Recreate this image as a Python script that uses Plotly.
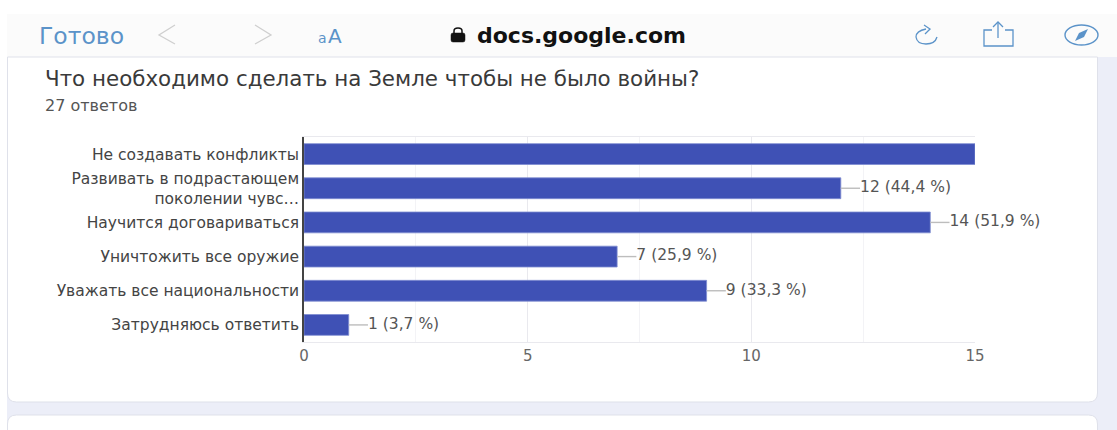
import plotly.graph_objects as go

categories = ["Не создавать конфликты", "Развивать в подрастающем<br>поколении чувс…",
              "Научится договариваться", "Уничтожить все оружие",
              "Уважать все национальности", "Затрудняюсь ответить"]
values = [15, 12, 14, 7, 9, 1]
value_labels = ["15 (55,6 %", "12 (44,4 %)", "14 (51,9 %)", "7 (25,9 %)", "9 (33,3 %)", "1 (3,7 %)"]
x_ticks = [0, 5, 10, 15]
title = "Что необходимо сделать на Земле чтобы не было войны?"
subtitle = "27 ответов"

W, H = 1117, 430
L, R, T, B = 304, 975, 137, 342
FONT = "DejaVu Sans"
BLUE = "#5b93c9"
LEADER = 0.43

def X(p): return (p - L) / (R - L)
def Y(p): return (B - p) / (B - T)

def path(*items):
    out = []
    for it in items:
        if isinstance(it, str):
            out.append(it)
        else:
            out.append(f"{X(it[0]):.5f},{Y(it[1]):.5f}")
    return " ".join(out)

def card(x0, y0, x1, y1, r=9, top=True, bottom=True):
    a = ["M", (x0, y0 + (r if top else 0))]
    if top: a += ["Q", (x0, y0), (x0 + r, y0)]
    a += ["L", (x1 - (r if top else 0), y0)]
    if top: a += ["Q", (x1, y0), (x1, y0 + r)]
    a += ["L", (x1, y1 - (r if bottom else 0))]
    if bottom: a += ["Q", (x1, y1), (x1 - r, y1)]
    a += ["L", (x0 + (r if bottom else 0), y1)]
    if bottom: a += ["Q", (x0, y1), (x0, y1 - r)]
    a += ["Z"]
    return path(*a)

def pshape(d, fill="rgba(0,0,0,0)", line="rgba(0,0,0,0)", w=1.3, layer="below"):
    return dict(type="path", xref="paper", yref="paper", path=d, fillcolor=fill,
                line=dict(color=line, width=w), layer=layer)

def rect(x0, y0, x1, y1, fill):
    return dict(type="rect", xref="paper", yref="paper", x0=X(x0), x1=X(x1), y0=Y(y0), y1=Y(y1),
                fillcolor=fill, line=dict(width=0), layer="below")

def ell(x0, y0, x1, y1, line):
    return dict(type="circle", xref="paper", yref="paper", x0=X(x0), x1=X(x1), y0=Y(y0), y1=Y(y1),
                line=dict(color=line, width=1.4), layer="below")

def text(px, py, s, size, color, anchor="left", bold=False):
    return dict(xref="paper", yref="paper", x=X(px), y=Y(py), text=f"<b>{s}</b>" if bold else s,
                showarrow=False, xanchor=anchor, yanchor="middle", xshift=0,
                font=dict(family=FONT, size=size, color=color))

BG = "#eceef8"
CR = 1097.5
shapes = [
    rect(7, 14, W, 57, "#fbfbfb"),
    rect(7, 57, W, H, BG),
    rect(7, 57, CR, 58, "#e6e6e6"),
    pshape(card(7.5, 57, CR, 402, top=False), fill="#ffffff", line="#dfe1ea", w=1),
    pshape(card(7.5, 415, CR, 445, bottom=False), fill="#ffffff", line="#dfe1ea", w=1),
    # chevrons
    pshape(path("M", (175, 25), "L", (159, 35), "L", (175, 44)), line="#cfcfcf", w=1.3),
    pshape(path("M", (255, 25), "L", (271, 35), "L", (255, 44)), line="#cfcfcf", w=1.3),
    # lock
    pshape(card(451, 33, 465, 42, r=2), fill="#111111", line="#111111", w=0.5),
    pshape(path("M", (454, 34), "L", (454, 31), "Q", (454, 28), (458, 28), "Q", (462, 28), (462, 31), "L", (462, 34)),
           line="#111111", w=1.5),
    # reload
    pshape(path("M", (926, 29), "Q", (916, 31), (916, 37), "Q", (917, 44), (926, 44), "Q", (935, 44), (937, 37)),
           line=BLUE),
    pshape(path("M", (924, 25), "L", (930, 29), "L", (925, 34)), line=BLUE),
    # share
    pshape(path("M", (992, 30), "L", (984, 30), "L", (984, 46), "L", (1013, 46), "L", (1013, 30), "L", (1005, 30)), line=BLUE),
    pshape(path("M", (998, 38), "L", (998, 23)), line=BLUE),
    pshape(path("M", (993, 27), "L", (998, 22), "L", (1003, 27)), line=BLUE),
    # compass
    ell(1065, 25, 1098, 45, BLUE),
    pshape(path("M", (1088, 29), "L", (1079, 33), "L", (1075, 41), "L", (1084, 37), "Z"), fill=BLUE),
]

annotations = [
    text(37, 36, "Готово", 23.5, BLUE),
    text(316, 38, "а", 14, BLUE),
    text(326, 36, "А", 20, BLUE),
    text(475, 35, "docs.google.com", 22, "#111111", bold=True),
    text(43, 78, title, 21.4, "#3a3a3a"),
    text(43, 105, subtitle, 16, "#555555"),
]

fig = go.Figure()
fig.add_bar(y=categories, x=values, orientation="h", width=0.61,
            marker=dict(color="#3f51b5", line=dict(color="#7f8dd0", width=0.8)), hoverinfo="skip")
for v, c in zip(values, categories):
    if v != max(values):
        fig.add_scatter(y=[c, c], x=[v, v + LEADER], mode="lines",
                        line=dict(color="#bdbdbd", width=1.4), hoverinfo="skip")
fig.add_scatter(y=categories, x=[v + LEADER for v in values], mode="text", text=value_labels,
                textposition="middle right", cliponaxis=False, hoverinfo="skip",
                textfont=dict(family=FONT, size=15.5, color="#555555"))

fig.update_layout(
    width=W, height=H, margin=dict(l=L, r=W - R, t=T, b=H - B),
    paper_bgcolor="#ffffff", plot_bgcolor="rgba(0,0,0,0)", showlegend=False,
    shapes=shapes, annotations=annotations, bargap=0.39,
    font=dict(family=FONT),
    xaxis=dict(range=[0, 15], tickvals=x_ticks, showgrid=True, gridcolor="#e9e9ee", gridwidth=1,
               minor=dict(dtick=2.5, showgrid=True, gridcolor="#f3f3f6", gridwidth=1),
               showline=True, linecolor="#e9e9ee", linewidth=1, mirror=True, zeroline=False,
               ticks="", tickfont=dict(family=FONT, size=15, color="#666666")),
    yaxis=dict(autorange="reversed", showline=True, linecolor="#444444", linewidth=1.6, showgrid=False,
               ticks="", zeroline=False,
               tickfont=dict(family=FONT, size=15.5, color="#444444")),
)
fig.write_html("out.html", post_script="document.body.style.margin='0';",
               config=dict(displayModeBar=False))
